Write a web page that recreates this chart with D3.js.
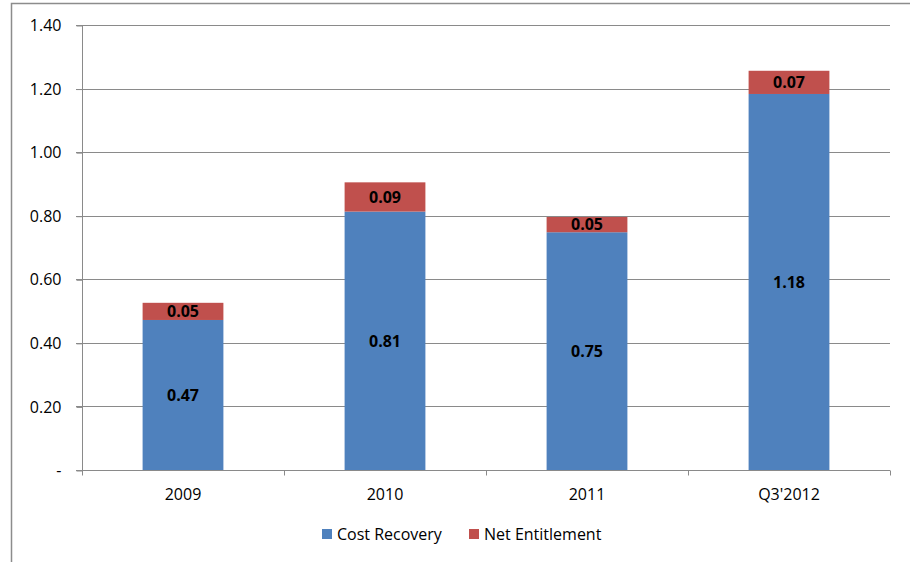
<!DOCTYPE html>
<html><head><meta charset="utf-8">
<script src="https://cdn.jsdelivr.net/npm/d3@7"></script>
<style>body{margin:0;background:#fff}svg{display:block}</style>
</head><body>
<svg id="c" width="910" height="562"></svg>
<script>
const categories = ["2009", "2010", "2011", "Q3'2012"];
const costRecovery = [0.472, 0.813, 0.748, 1.183];
const netEntitlement = [0.054, 0.092, 0.048, 0.073];
const yTicks = [0, 0.2, 0.4, 0.6, 0.8, 1.0, 1.2, 1.4];
const seriesNames = ["Cost Recovery", "Net Entitlement"];
const colors = ["#4F81BD", "#C0504D"];

const svg = d3.select("#c");
const font = "'Open Sans', sans-serif";
svg.append("rect").attr("x", 11.5).attr("y", 3.5).attr("width", 920).attr("height", 580)
  .attr("fill", "#fff").attr("stroke", "#8c8c8c").attr("stroke-width", 1.5);

const L = 82, R = 890, T = 25, B = 470;
const x = d3.scaleBand().domain(categories).range([L, R]).paddingInner(0.6).paddingOuter(0.3);
const xb = d3.scaleBand().domain(categories).range([L, R]);
const y = d3.scaleLinear().domain([0, 1.4]).range([B, T]);

// gridlines
svg.append("g").selectAll("line").data(yTicks.slice(1)).join("line")
  .attr("x1", L - 6).attr("x2", R).attr("y1", d => Math.round(y(d)) + 0.5).attr("y2", d => Math.round(y(d)) + 0.5)
  .attr("stroke", "#8a8a8a").attr("stroke-width", 1);

// y axis
const yAxis = d3.axisLeft(y).tickValues(yTicks).tickSize(6).tickPadding(15)
  .tickFormat(d => d === 0 ? "-" : d3.format(".2f")(d));
const gy = svg.append("g").attr("transform", `translate(${L + 0.5},0.5)`).call(yAxis);
gy.select(".domain").attr("stroke", "#8a8a8a").attr("d", `M0,${T}V${B}`);
gy.selectAll(".tick line").attr("stroke", "#8a8a8a");
gy.selectAll("text").attr("font-family", font).attr("font-size", 16).attr("fill", "#000");

// stacked data
const data = categories.map((c, i) => ({cat: c, a: costRecovery[i], b: netEntitlement[i]}));
const stack = d3.stack().keys(["a", "b"])(data);

svg.append("g").selectAll("g").data(stack).join("g").attr("fill", (d, i) => colors[i])
  .selectAll("rect").data(d => d).join("rect")
  .attr("x", d => x(d.data.cat)).attr("width", x.bandwidth())
  .attr("y", d => y(d[1])).attr("height", d => y(d[0]) - y(d[1]));

// labels
svg.append("g").selectAll("g").data(stack).join("g")
  .selectAll("text").data(d => d).join("text")
  .attr("x", d => x(d.data.cat) + x.bandwidth() / 2)
  .attr("y", d => (y(d[0]) + y(d[1])) / 2)
  .attr("dy", "0.36em").attr("text-anchor", "middle")
  .attr("font-family", font).attr("font-size", 16).attr("font-weight", "bold").attr("fill", "#000")
  .text(d => d3.format(".2f")(d[1] - d[0]));

// x axis
const gx = svg.append("g").attr("transform", `translate(0,${B + 0.5})`);
gx.append("line").attr("x1", L - 6).attr("x2", R).attr("stroke", "#8a8a8a");
const bounds = categories.map(c => xb(c)).concat([R]);
gx.selectAll(".tk").data(bounds).join("line").attr("class", "tk")
  .attr("x1", d => Math.round(d) + 0.5).attr("x2", d => Math.round(d) + 0.5).attr("y1", 0).attr("y2", 5)
  .attr("stroke", "#8a8a8a");
gx.selectAll("text").data(categories).join("text")
  .attr("x", d => xb(d) + xb.bandwidth() / 2).attr("y", 29)
  .attr("text-anchor", "middle").attr("font-family", font).attr("font-size", 16).attr("fill", "#000")
  .text(d => d);

// legend
const leg = svg.append("g").attr("transform", "translate(0,534)");
const lx = [322, 469];
seriesNames.forEach((n, i) => {
  leg.append("rect").attr("x", lx[i]).attr("y", -5).attr("width", 10).attr("height", 10).attr("fill", colors[i]);
  leg.append("text").attr("x", lx[i] + 15).attr("y", 0).attr("dy", "0.36em")
    .attr("font-family", font).attr("font-size", 16).attr("fill", "#000").text(n);
});
</script>
</body></html>
